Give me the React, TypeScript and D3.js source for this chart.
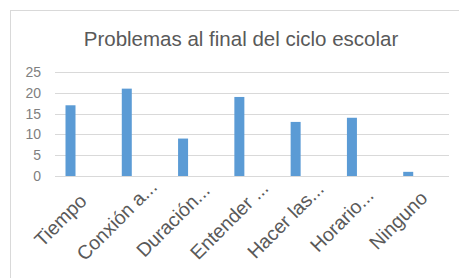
import React, { useEffect, useRef } from "react";
import * as d3 from "d3";

// Chart data
const categories = [
  "Tiempo",
  "Conxión a...",
  "Duración...",
  "Entender ...",
  "Hacer las...",
  "Horario...",
  "Ninguno",
];
const values = [17, 21, 9, 19, 13, 14, 1];
const yTicks = [0, 5, 10, 15, 20, 25];
const title = "Problemas al final del ciclo escolar";

const W = 459;
const H = 278;

const App = () => {
  const ref = useRef<SVGSVGElement>(null);

  useEffect(() => {
    const svg = d3.select(ref.current);
    svg.selectAll("*").remove();

    const font = "'Liberation Sans', Arial, sans-serif";
    const grey = "#595959";

    // chart frame (runs off the right / bottom edge)
    svg.append("rect")
      .attr("x", 10.5)
      .attr("y", 10.5)
      .attr("width", 470)
      .attr("height", 290)
      .attr("fill", "#fff")
      .attr("stroke", "#d9d9d9");

    // title
    svg.append("text")
      .attr("x", 241)
      .attr("y", 46)
      .attr("text-anchor", "middle")
      .attr("font-family", font)
      .attr("font-size", 20.5)
      .attr("fill", grey)
      .text(title);

    const plot = { left: 55, right: 449, top: 72, bottom: 176 };

    const x = d3.scaleBand<string>()
      .domain(categories)
      .range([plot.left, plot.right])
      .padding(0);

    const y = d3.scaleLinear()
      .domain([0, 25])
      .range([plot.bottom, plot.top]);

    // gridlines
    svg.append("g")
      .selectAll("line")
      .data(yTicks)
      .enter().append("line")
      .attr("x1", plot.left)
      .attr("x2", plot.right)
      .attr("y1", d => Math.round(y(d)) + 0.5)
      .attr("y2", d => Math.round(y(d)) + 0.5)
      .attr("stroke", "#d9d9d9")
      .attr("stroke-width", 1.2);

    // y tick labels
    svg.append("g")
      .selectAll("text")
      .data(yTicks)
      .enter().append("text")
      .attr("x", 41)
      .attr("y", d => y(d))
      .attr("dy", "0.36em")
      .attr("text-anchor", "end")
      .attr("font-family", font)
      .attr("font-size", 14)
      .attr("fill", "#7f7f7f")
      .text(d => d);

    // bars, sitting a little left of the category centre
    const barW = 10;
    const barOffset = 10.5;
    svg.append("g")
      .selectAll("rect")
      .data(values)
      .enter().append("rect")
      .attr("x", (d, i) => x(categories[i])! + barOffset)
      .attr("y", d => y(d))
      .attr("width", barW)
      .attr("height", d => plot.bottom - y(d))
      .attr("fill", "#5b9bd5");

    // rotated category labels
    const labelY = 225;
    svg.append("g")
      .selectAll("text")
      .data(categories)
      .enter().append("text")
      .attr("transform", d => {
        const cx = x(d)! + x.bandwidth() / 2 - 18;
        return `translate(${cx},${labelY}) rotate(-45)`;
      })
      .attr("text-anchor", "middle")
      .attr("font-family", font)
      .attr("font-size", 19.5)
      .attr("fill", grey)
      .text(d => d);
  }, []);

  return (
    <svg
      ref={ref}
      width={W}
      height={H}
      style={{ position: "absolute", left: 0, top: 0, background: "#fff" }}
    />
  );
};

export default App;
